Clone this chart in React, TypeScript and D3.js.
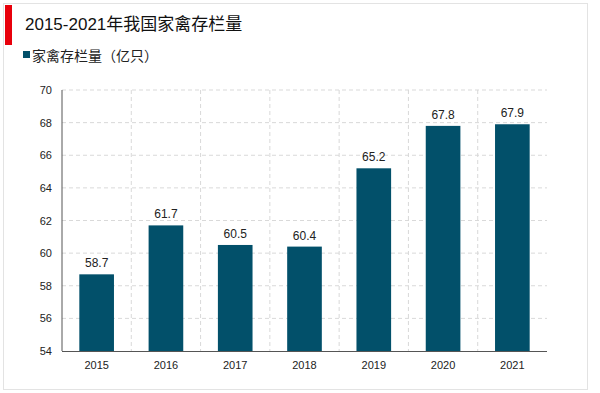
import * as React from "react";
import { scaleBand, scaleLinear, range } from "d3";

const years = ["2015", "2016", "2017", "2018", "2019", "2020", "2021"];
const stock = [58.7, 61.7, 60.5, 60.4, 65.2, 67.8, 67.9];
const yTicks = [54, 56, 58, 60, 62, 64, 66, 68, 70];

const W = 600;
const H = 393;
const margin = { left: 62, right: 53, top: 90, bottom: 42 };
const barColor = "#02506a";
const font = "Arial, 'Liberation Sans', 'Noto Sans CJK SC', sans-serif";

export default function App() {
  const x = scaleBand<string>()
    .domain(years)
    .range([margin.left, W - margin.right])
    .paddingInner(0.5)
    .paddingOuter(0.25);
  const y = scaleLinear()
    .domain([54, 70])
    .range([H - margin.bottom, margin.top]);

  const step = x.step();
  const bandStart = margin.left;

  return (
    <svg
      width={W}
      height={H}
      style={{ position: "absolute", left: 0, top: 0, background: "#fff" }}
      fontFamily={font}
    >
      {/* outer frame */}
      <rect x={3.5} y={3.5} width={584} height={386} fill="none" stroke="#e3e3e3" />
      <rect x={5} y={5} width={7} height={40} fill="#e8000b" />
      <text x={25} y={30} fontSize={17} fill="#111">
        2015-2021年我国家禽存栏量
      </text>
      <rect x={23} y={51} width={7} height={7} fill={barColor} />
      <text x={32} y={61} fontSize={14} fill="#222">
        家禽存栏量（亿只）
      </text>

      {/* grid */}
      {yTicks.slice(1).map((t) => (
        <line
          key={t}
          x1={margin.left}
          x2={W - margin.right}
          y1={y(t)}
          y2={y(t)}
          stroke="#d9d9d9"
          strokeDasharray="4,3"
        />
      ))}
      {range(1, years.length).map((i) => (
        <line
          key={i}
          x1={bandStart + step * i}
          x2={bandStart + step * i}
          y1={margin.top}
          y2={H - margin.bottom}
          stroke="#d9d9d9"
          strokeDasharray="4,3"
        />
      ))}

      {/* bars */}
      {years.map((yr, i) => (
        <g key={yr}>
          <rect
            x={x(yr)}
            y={y(stock[i])}
            width={x.bandwidth()}
            height={y(54) - y(stock[i])}
            fill={barColor}
          />
          <text
            x={(x(yr) as number) + x.bandwidth() / 2}
            y={y(stock[i]) - 7}
            textAnchor="middle"
            fontSize={12}
            fill="#222"
          >
            {stock[i].toFixed(1)}
          </text>
          <text
            x={(x(yr) as number) + x.bandwidth() / 2}
            y={H - margin.bottom + 18}
            textAnchor="middle"
            fontSize={11}
            fill="#222"
          >
            {yr}
          </text>
        </g>
      ))}

      {/* axes */}
      <line
        x1={margin.left}
        x2={margin.left}
        y1={margin.top}
        y2={H - margin.bottom}
        stroke="#555"
      />
      <line
        x1={margin.left}
        x2={W - margin.right}
        y1={H - margin.bottom + 0.5}
        y2={H - margin.bottom + 0.5}
        stroke="#555"
      />
      {yTicks.map((t) => (
        <text
          key={t}
          x={margin.left - 10}
          y={y(t) + 4}
          textAnchor="end"
          fontSize={11}
          fill="#222"
        >
          {t}
        </text>
      ))}
    </svg>
  );
}
